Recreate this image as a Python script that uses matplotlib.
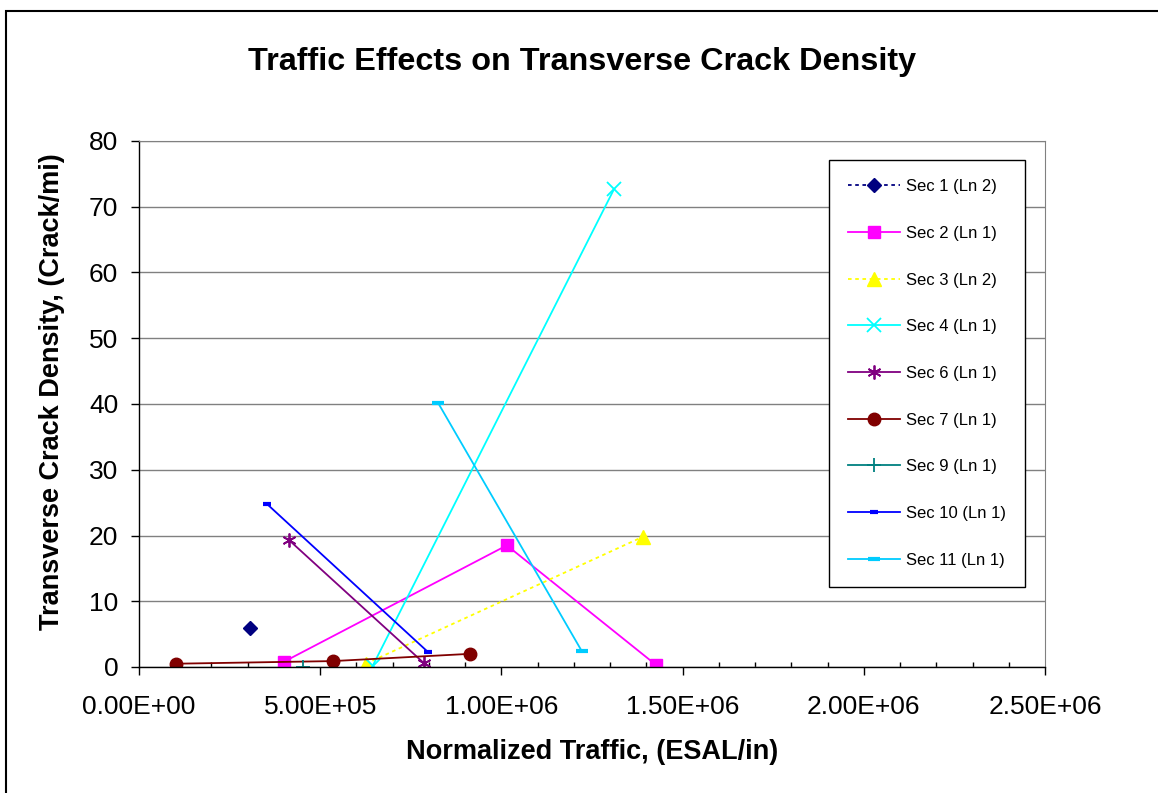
import numpy as np
import matplotlib.pyplot as plt
from matplotlib.patches import Rectangle
from matplotlib.ticker import MultipleLocator, FuncFormatter

plt.rcParams['font.family'] = ['Liberation Sans', 'DejaVu Sans']

# data: traffic (ESAL/in), crack density (crack/mi)
sec1_x = [3.06e5]
sec1_y = [5.9]
sec2_x = [4.0e5, 1.015e6, 1.427e6]
sec2_y = [0.8, 18.5, 0.3]
sec3_x = [6.26e5, 1.39e6]
sec3_y = [0.5, 19.8]
sec4_x = [6.45e5, 1.311e6]
sec4_y = [0.2, 72.7]
sec6_x = [4.14e5, 7.86e5]
sec6_y = [19.3, 0.6]
sec7_x = [1.02e5, 5.35e5, 9.13e5]
sec7_y = [0.5, 0.9, 2.0]
sec9_x = [4.53e5]
sec9_y = [0.0]
sec10_x = [3.53e5, 7.97e5]
sec10_y = [24.8, 2.3]
sec11_x = [8.25e5, 1.222e6]
sec11_y = [40.2, 2.4]

labels = ['Sec 1 (Ln 2)', 'Sec 2 (Ln 1)', 'Sec 3 (Ln 2)', 'Sec 4 (Ln 1)', 'Sec 6 (Ln 1)',
          'Sec 7 (Ln 1)', 'Sec 9 (Ln 1)', 'Sec 10 (Ln 1)', 'Sec 11 (Ln 1)']

fig = plt.figure(figsize=(11.58, 7.93), dpi=100)
ax = fig.add_axes([139 / 1158, 1 - 667 / 793, (1045 - 139) / 1158, (667 - 141) / 793])

lw = 1.3
ax.plot(sec1_x, sec1_y, color='#000080', ls=(0, (2, 2)), lw=lw, marker='D', ms=7, label=labels[0])
ax.plot(sec2_x, sec2_y, color='#FF00FF', lw=lw, marker='s', ms=9, label=labels[1])
ax.plot(sec3_x, sec3_y, color='#FFFF00', ls=(0, (2, 2)), lw=lw, marker='^', ms=10, label=labels[2])
ax.plot(sec4_x, sec4_y, color='#00FFFF', lw=lw, marker='x', ms=10, mew=1.3, label=labels[3])
ax.plot(sec6_x, sec6_y, color='#800080', lw=lw, marker=(6, 2, 0), ms=10, mew=1.3, label=labels[4])
ax.plot(sec7_x, sec7_y, color='#800000', lw=lw, marker='o', ms=9, label=labels[5])
ax.plot(sec9_x, sec9_y, color='#008080', lw=lw, marker='+', ms=10, mew=1.3, label=labels[6])
ax.plot(sec10_x, sec10_y, color='#0000FF', lw=lw, marker='_', ms=6, mew=3, label=labels[7])
ax.plot(sec11_x, sec11_y, color='#00CCFF', lw=lw, marker='_', ms=8, mew=3, label=labels[8])

ax.set_xlim(0, 2.5e6)
ax.set_ylim(0, 80)
ax.xaxis.set_major_locator(MultipleLocator(5e5))
ax.xaxis.set_minor_locator(MultipleLocator(1e5))
ax.yaxis.set_major_locator(MultipleLocator(10))
ax.xaxis.set_major_formatter(FuncFormatter(lambda v, p: '%.2E' % v))
ax.grid(axis='y', color='#808080', lw=1)
ax.set_axisbelow(True)

for s in ['top', 'right']:
    ax.spines[s].set_color('#808080')
for s in ['left', 'bottom']:
    ax.spines[s].set_color('black')
    ax.spines[s].set_linewidth(1)

ax.tick_params(axis='x', which='major', direction='out', length=6, width=1, pad=14, labelsize=19)
ax.tick_params(axis='x', which='minor', direction='in', length=3.6, width=1)
ax.tick_params(axis='y', which='major', direction='out', length=6, width=1, pad=9, labelsize=19)

leg = ax.legend(loc='upper left', bbox_to_anchor=(829 / 1158, 1 - 160 / 793), bbox_transform=fig.transFigure,
                fontsize=12, frameon=True, fancybox=False, edgecolor='black', framealpha=1,
                handlelength=3.1, handletextpad=0.35, labelspacing=1.9, borderpad=1.15,
                borderaxespad=0)
leg.get_frame().set_linewidth(1)

fig.text(0.503, 1 - 62 / 793, 'Traffic Effects on Transverse Crack Density', ha='center', va='center',
         fontsize=23.3, fontweight='bold')
fig.text(0.5117, 1 - 752 / 793, 'Normalized Traffic, (ESAL/in)', ha='center', va='center',
         fontsize=19.5, fontweight='bold')
fig.text(52 / 1158, 1 - 392 / 793, 'Transverse Crack Density, (Crack/mi)', ha='center', va='center',
         fontsize=19.5, fontweight='bold', rotation=90)

# outer chart border (cut off at right and bottom)
fig.patches.append(Rectangle((6 / 1158, -0.05), 1.1, 1 - 11 / 793 + 0.05, transform=fig.transFigure,
                             fill=False, edgecolor='black', lw=1.5))

fig.savefig('out.png', dpi=100)
